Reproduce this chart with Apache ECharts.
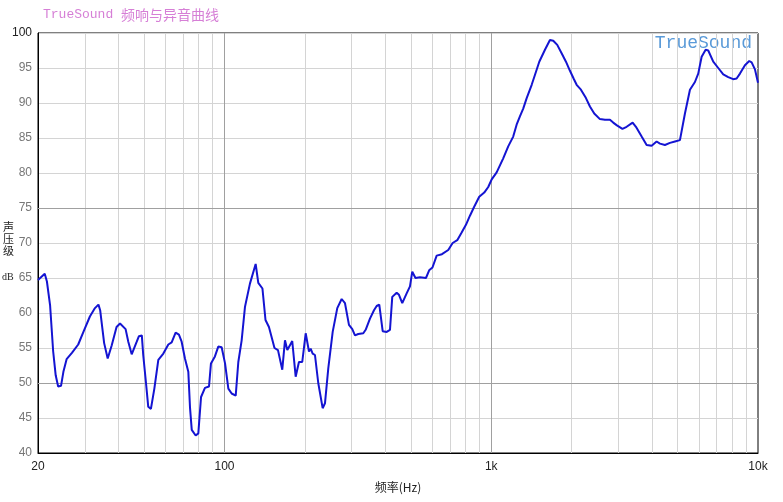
<!DOCTYPE html>
<html><head><meta charset="utf-8">
<script src="https://cdn.jsdelivr.net/npm/echarts@6/dist/echarts.min.js"></script>
<style>html,body{margin:0;padding:0;background:#fff}#c{width:783px;height:502px}</style>
</head><body><div id="c"></div>
<script>
const freq = [20,21.2,21.6,22.2,22.8,23.3,23.8,24.4,24.9,25.6,26.8,28.3,29.6,31.3,32.7,33.7,34.2,35.4,36.5,37.8,39.4,40.6,42.6,43.6,44.9,46.9,47.8,49.0,49.6,50.8,51.8,53.0,54.6,56.5,59.0,61.6,63.4,65.6,67.5,69.1,71.1,73.2,74.3,75.4,78.0,79.8,81.7,84.5,87.5,89.0,92.1,94.8,97.6,100.5,103.4,106.4,110.2,112.7,116.0,119.4,124.6,130.9,133.9,138.8,142.5,146.8,154.0,158.7,164.7,168.6,172.0,176.0,179.5,184.9,190.2,195.7,201.6,207.4,210.4,214.1,218.4,224.7,233.4,238.1,245.0,254.5,264.8,275.0,283.0,292.9,301.4,308.5,317.4,331.4,338.3,351.1,363.5,372.0,380.5,384.4,391.8,405.6,417.3,425.6,442.1,451.0,464.0,481.9,495.9,505.8,520.0,540.6,569.3,585.2,602.2,624.4,653.6,690.1,716.8,745.8,774.7,803.9,832.2,861.4,901.7,941.5,974.6,1004,1048,1109,1158,1209,1245,1281,1318,1358,1418,1458,1514,1590,1660,1708,1768,1836,1906,1973,2042,2090,2169,2265,2344,2433,2555,2668,2786,2866,2959,3103,3218,3389,3487,3663,3824,3993,4169,4290,4479,4676,4883,5098,5323,5558,5802,5970,6148,6364,6508,6796,7096,7408,7734,8074,8316,8558,8934,9272,9466,9740,10000];
const spl = [64.7,65.6,64.5,61.1,54.5,51.1,49.5,49.6,51.6,53.4,54.3,55.5,57.3,59.5,60.7,61.2,60.4,55.7,53.5,55.4,58.0,58.5,57.7,55.9,54.1,55.9,56.7,56.8,54.0,50.0,46.6,46.3,49.2,53.3,54.2,55.5,55.8,57.2,56.9,55.9,53.5,51.6,46.4,43.3,42.5,42.8,48.0,49.3,49.5,52.8,53.8,55.2,55.1,52.8,49.2,48.5,48.2,53.0,56.1,60.9,64.2,67.0,64.3,63.5,59.0,58.0,55.0,54.7,51.9,56.1,54.7,55.4,56.0,50.9,53.0,53.0,57.1,54.5,54.9,54.2,54.0,50.0,46.4,47.1,52.1,57.3,60.7,62.0,61.4,58.3,57.7,56.8,57.0,57.1,57.6,59.2,60.4,61.0,61.2,61.1,57.4,57.3,57.6,62.3,62.9,62.6,61.4,62.8,63.8,65.9,65.0,65.1,65.0,66.1,66.5,68.2,68.4,69.0,70.0,70.4,71.5,72.6,73.9,75.1,76.6,77.2,78.0,79.1,80.1,82.1,83.8,85.2,86.9,88.1,89.2,90.7,92.6,94.0,95.9,97.6,99.0,98.9,98.3,97.1,95.9,94.6,93.4,92.6,91.9,90.7,89.5,88.5,87.7,87.6,87.6,87.2,86.8,86.3,86.6,87.2,86.6,85.2,84.0,83.9,84.5,84.2,84.0,84.3,84.5,84.7,88.5,91.9,93.0,94.2,96.6,97.6,97.5,95.9,95.0,94.1,93.7,93.4,93.5,94.2,95.4,96.0,95.8,94.8,92.9];
const minorFreqs = [30,40,50,60,70,80,90,200,300,400,500,600,700,800,900,2000,3000,4000,5000,6000,7000,8000,9000];
const majorFreqs = [100,1000];
const majorLevels = [50,75];
const xLabels = {20:'20',100:'100',1000:'1k',10000:'10k'};

const chart = echarts.init(document.getElementById('c'), null, {renderer:'canvas'});
const data = freq.map((f,i)=>[f,spl[i]]);
chart.setOption({
  animation:false,
  backgroundColor:'#fff',
  title:{
    text:'{a|TrueSound }{b|频响与异音曲线}',
    left:38, top:3,
    textStyle:{fontWeight:'normal',rich:{
      a:{fontFamily:'Liberation Mono, monospace',fontSize:13,color:'#d67fd6',fontWeight:'normal'},
      b:{fontFamily:'Noto Sans CJK SC',fontSize:14,color:'#d67fd6',fontWeight:'normal'}
    }}
  },
  grid:{left:38,right:25,top:33,bottom:49,show:true,borderColor:'#000',borderWidth:1},
  xAxis:{
    type:'log', logBase:10, min:20, max:10000,
    axisLine:{show:true,lineStyle:{color:'#000',width:1}},
    axisTick:{show:false},
    splitLine:{show:false},
    axisLabel:{color:'#222',fontFamily:'Liberation Sans, Arial',fontSize:12,margin:8,
      formatter:v=>xLabels[Math.round(v)]||''},
    name:'频率(Hz)', nameLocation:'middle', nameGap:28,
    nameTextStyle:{color:'#222',fontFamily:'Noto Sans CJK SC',fontSize:12}
  },
  yAxis:{
    type:'value', min:40, max:100, interval:5,
    axisLine:{show:true,lineStyle:{color:'#000',width:1}},
    axisTick:{show:false},
    splitLine:{show:true,lineStyle:{color:'#d4d4d4',width:1}},
    axisLabel:{color:'#777',fontFamily:'Liberation Sans, Arial',fontSize:12,margin:6,
      formatter:v=>v===100?'{d|100}':String(v), rich:{d:{color:'#222',fontSize:12,fontFamily:'Liberation Sans, Arial'}}}
  },
  graphic:[
    {type:'text',left:3,top:221,style:{text:'声\n压\n级',fill:'#222',font:'11px "Noto Sans CJK SC"',lineHeight:12}},
    {type:'text',left:2,top:272,style:{text:'dB',fill:'#222',font:'10px "Liberation Serif"'}},
    {type:'text',right:31,top:34,style:{text:'TrueSound',fill:'#5a9ad8',font:'18px "Liberation Mono"'}}
  ],
  series:[{
    type:'line', data:data, showSymbol:false, smooth:false,
    lineStyle:{color:'#1414d2',width:2},
    z:5,
    markLine:{
      silent:true, symbol:['none','none'], label:{show:false},
      data:[
        ...minorFreqs.map(f=>({xAxis:f,lineStyle:{color:'#d4d4d4',width:1,type:'solid'}})),
        ...majorFreqs.map(f=>({xAxis:f,lineStyle:{color:'#a0a0a0',width:1,type:'solid'}})),
        ...majorLevels.map(v=>({yAxis:v,lineStyle:{color:'#a0a0a0',width:1,type:'solid'}}))
      ],
      z:1
    }
  }]
});
</script></body></html>
